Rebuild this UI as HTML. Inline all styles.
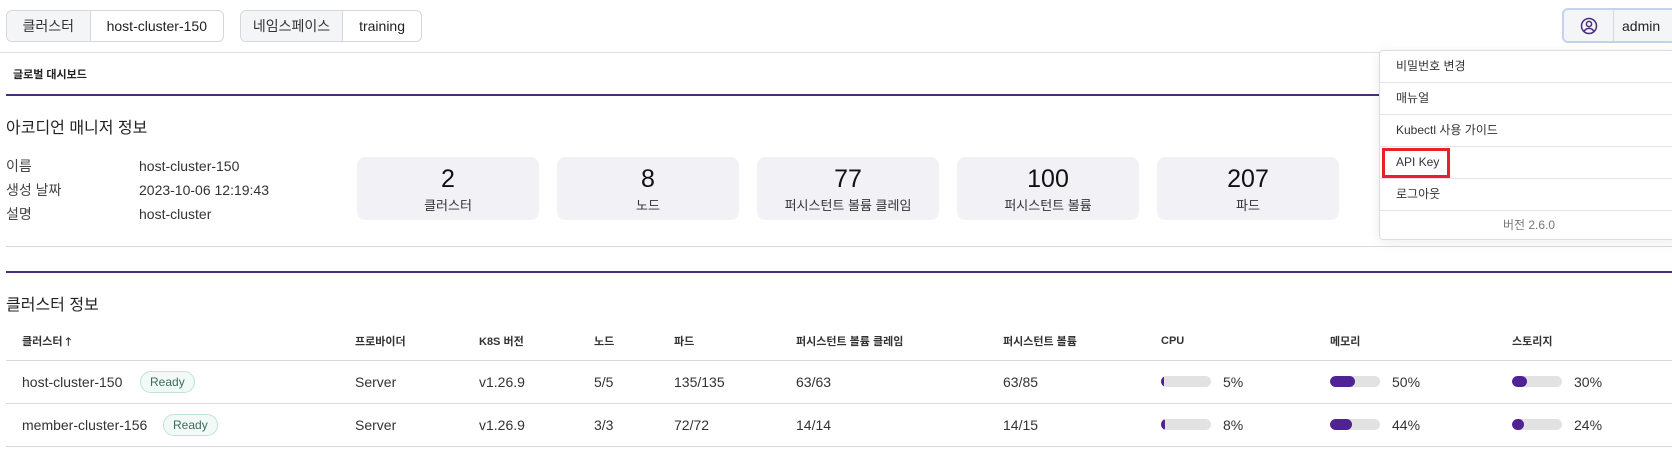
<!DOCTYPE html>
<html><head><meta charset="utf-8">
<style>
*{box-sizing:border-box;margin:0;padding:0}
body{width:1672px;height:450px;overflow:hidden;background:#fff;font-family:"Liberation Sans","Noto Sans CJK KR",sans-serif;color:#222;position:relative;font-size:14px}
.abs{position:absolute}
.seg{position:absolute;top:10px;height:32px;border:1px solid #d5d7dc;border-radius:6px;display:flex;overflow:hidden;font-size:14px;white-space:nowrap}
.seg div{display:flex;align-items:center;padding:0 16px}
.seg .k{background:#f4f5f7;border-right:1px solid #d5d7dc;color:#333;justify-content:center;padding:0}
.hl{position:absolute;left:6px;right:0;height:1px;background:#d8d8de}
.pl{position:absolute;left:6px;right:0;height:2px;background:#4b2e7a}
.card{position:absolute;top:157px;width:182px;height:63px;background:#f2f2f6;border-radius:8px;text-align:center}
.card .n{font-size:25px;margin-top:8px;line-height:28px;color:#111}
.card .l{font-size:13px;color:#333;margin-top:2px}
.th{position:absolute;top:334px;font-size:11px;font-weight:bold;color:#333;line-height:16px;white-space:nowrap}
.td{position:absolute;font-size:14px;color:#333;line-height:18px;white-space:nowrap}
.badge{position:absolute;height:22px;border:1px solid #bfe3d6;background:#f1faf6;border-radius:11px;font-size:12px;color:#3d6b5a;padding:0 9px;line-height:20px}
.bar{position:absolute;width:50px;height:11px;background:#e2e2e2;border-radius:6px;overflow:hidden}
.bar i{display:block;height:100%;background:#4f2393;border-radius:6px}
.menu{position:absolute;left:1379px;top:50px;width:300px;border:1px solid #dcdde3;background:#fff;border-radius:4px;box-shadow:0 2px 12px rgba(0,0,0,.08)}
.mi{height:32px;border-bottom:1px solid #e4e4e8;font-size:12px;color:#333;padding-left:16px;line-height:31px;position:relative}
</style></head><body>
<div class="seg" style="left:6px;width:218px"><div class="k" style="width:86px">클러스터</div><div>host-cluster-150</div></div>
<div class="seg" style="left:240px;width:182px"><div class="k" style="width:111px">네임스페이스</div><div>training</div></div>
<div class="abs" style="left:1562px;top:8px;width:120px;height:35px;border:2px solid #c4d2ef;border-radius:6px;background:#f4f5f7;display:flex;align-items:center">
<div style="width:50px;height:31px;display:flex;align-items:center;justify-content:center;border-right:1px solid #d5d7dc"><svg width="18" height="18" viewBox="0 0 18 18"><circle cx="9" cy="9" r="7.5" fill="none" stroke="#4b2e7a" stroke-width="1.5"/><circle cx="9" cy="7" r="2.6" fill="none" stroke="#4b2e7a" stroke-width="1.5"/><path d="M4.2 14.2c1.2-2 2.8-2.8 4.8-2.8s3.6.8 4.8 2.8" fill="none" stroke="#4b2e7a" stroke-width="1.5"/></svg></div>
<div style="padding-left:8px;font-size:14px">admin</div></div>
<div class="abs" style="left:0;right:0;top:52px;height:1px;background:#e2e2e6"></div>
<div class="abs" style="left:13px;top:66px;font-size:11px;font-weight:bold;color:#222">글로벌 대시보드</div>
<div class="pl" style="top:94px"></div>
<div class="abs" style="left:6px;top:114px;font-size:16px;color:#222">아코디언 매니저 정보</div>
<div class="td" style="left:6px;top:157px;color:#444">이름</div>
<div class="td" style="left:139px;top:157px">host-cluster-150</div>
<div class="td" style="left:6px;top:181px;color:#444">생성 날짜</div>
<div class="td" style="left:139px;top:181px">2023-10-06 12:19:43</div>
<div class="td" style="left:6px;top:205px;color:#444">설명</div>
<div class="td" style="left:139px;top:205px">host-cluster</div>
<div class="card" style="left:357px"><div class="n">2</div><div class="l">클러스터</div></div>
<div class="card" style="left:557px"><div class="n">8</div><div class="l">노드</div></div>
<div class="card" style="left:757px"><div class="n">77</div><div class="l">퍼시스턴트 볼륨 클레임</div></div>
<div class="card" style="left:957px"><div class="n">100</div><div class="l">퍼시스턴트 볼륨</div></div>
<div class="card" style="left:1157px"><div class="n">207</div><div class="l">파드</div></div>
<div class="hl" style="top:246px"></div>
<div class="pl" style="top:271px"></div>
<div class="abs" style="left:6px;top:291px;font-size:16px;color:#222">클러스터 정보</div>
<div class="th" style="left:22px">클러스터 🡑</div>
<div class="th" style="left:355px">프로바이더</div>
<div class="th" style="left:479px">K8S 버전</div>
<div class="th" style="left:594px">노드</div>
<div class="th" style="left:674px">파드</div>
<div class="th" style="left:796px">퍼시스턴트 볼륨 클레임</div>
<div class="th" style="left:1003px">퍼시스턴트 볼륨</div>
<div class="th" style="left:1161px;top:333px">CPU</div>
<div class="th" style="left:1330px">메모리</div>
<div class="th" style="left:1512px">스토리지</div>
<div class="hl" style="top:360px"></div>
<div class="hl" style="top:403px"></div>
<div class="hl" style="top:446px"></div>
<div id="rows"></div>
<div class="menu">
<div class="mi">비밀번호 변경</div>
<div class="mi">매뉴얼</div>
<div class="mi">Kubectl 사용 가이드</div>
<div class="mi">API Key<div class="abs" style="left:2px;top:1px;width:68px;height:30px;border:3px solid #e8202a"></div></div>
<div class="mi">로그아웃</div>
<div style="text-align:center;font-size:12px;color:#777;line-height:28px">버전 2.6.0</div>
</div>
<script>
const names=["host-cluster-150","member-cluster-156"];
const badgeX=[140,163];
const nodes=["5/5","3/3"];
const pods=["135/135","72/72"];
const pvcs=["63/63","14/14"];
const pvs=["63/85","14/15"];
const cpu=[5,8];
const mem=[50,44];
const sto=[30,24];
const R=document.getElementById('rows');
function add(html,top,left,name,cls){const d=document.createElement('div');d.className=cls||'td';d.style.top=top+'px';d.style.left=left+'px';d.innerHTML=html;


R.appendChild(d);return d;}
names.forEach((n,i)=>{const y=373+i*43;
add(n,y,22,'cluster-name');
add('Ready',y-2,badgeX[i],'ready-badge','badge');
add('Server',y,355,'provider');
add('v1.26.9',y,479,'k8s-version');
add(nodes[i],y,594,'node-count');
add(pods[i],y,674,'pod-count');
add(pvcs[i],y,796,'pvc-count');
add(pvs[i],y,1003,'pv-count');
[[cpu,1161,'cpu'],[mem,1330,'memory'],[sto,1512,'storage']].forEach(([arr,x,k])=>{
add('<i style="width:'+arr[i]+'%"></i>',y+3,x,k+'-bar','bar');
add(arr[i]+'%',y,x+62,k+'-percent');});
});
</script>
</body></html>
